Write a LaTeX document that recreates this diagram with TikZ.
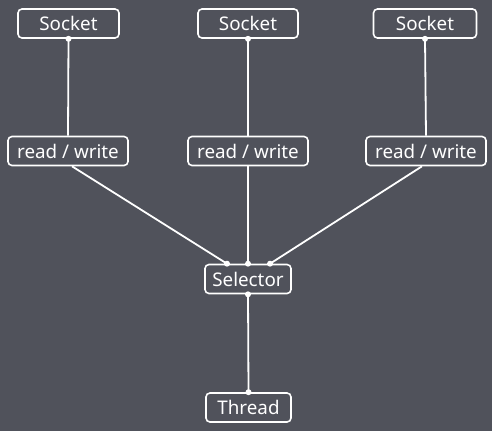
\documentclass[tikz,border=0pt]{standalone}
\usepackage{fontspec}
\setmainfont{Noto Sans}
\definecolor{bg}{RGB}{80,82,91}
\begin{document}
\begin{tikzpicture}[x=1pt,y=-1pt,
  box/.style={draw=white,line width=1.6pt,rounded corners=4pt,text=white,font=\fontsize{18.8}{21}\selectfont,inner sep=0pt,minimum height=29pt},
  link/.style={draw=white,line width=1.8pt},
  dot/.style={circle,fill=white,inner sep=0pt,minimum size=6pt}]
\fill[bg] (0,0) rectangle (492,431);
\useasboundingbox (0,0) rectangle (492,431);
\node[box,minimum width=101pt] (s1) at (68.5,23.5) {Socket};
\node[box,minimum width=100pt] (s2) at (248,23.5) {Socket};
\node[box,minimum width=103pt] (s3) at (425,23.5) {Socket};
\node[box,minimum width=120pt] (r1) at (68,151) {read / write};
\node[box,minimum width=120pt] (r2) at (248,151) {read / write};
\node[box,minimum width=120pt] (r3) at (426,151) {read / write};
\node[box,minimum width=86pt] (sel) at (248,279) {Selector};
\node[box,minimum width=85pt] (th) at (248.5,407.5) {Thread};
\coordinate (sa) at ([xshift=-21pt]sel.north);
\coordinate (sb) at (sel.north);
\coordinate (sc) at ([xshift=22pt]sel.north);
\coordinate (ra) at ([xshift=4pt]r1.south);
\coordinate (rc) at ([xshift=-4pt]r3.south);
\draw[link] (s1.south) -- (r1.north);
\draw[link] (s2.south) -- (r2.north);
\draw[link] (s3.south) -- (r3.north);
\draw[link] (ra) -- (sa);
\draw[link] (r2.south) -- (sb);
\draw[link] (rc) -- (sc);
\draw[link] (sel.south) -- (th.north);
\node[dot] at (s1.south) {};
\node[dot] at (s2.south) {};
\node[dot] at (s3.south) {};
\node[dot] at (sa) {};
\node[dot] at (sb) {};
\node[dot] at (sc) {};
\node[dot] at (sel.south) {};
\node[dot] at (th.north) {};
\end{tikzpicture}
\end{document}
